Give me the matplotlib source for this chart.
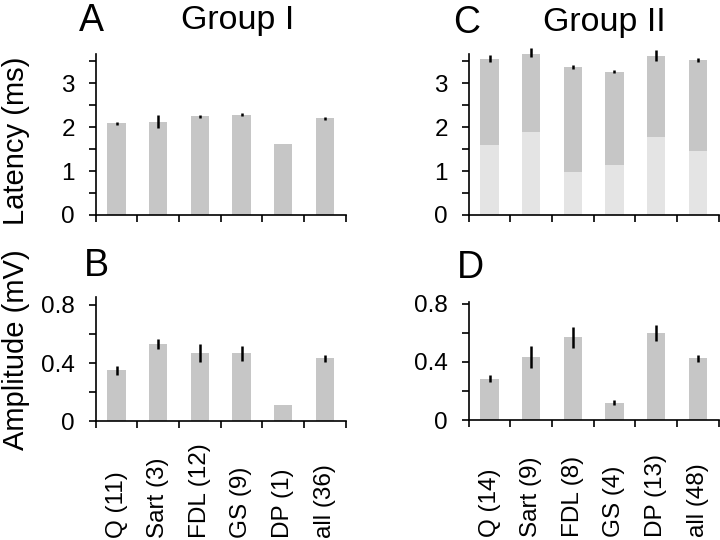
import matplotlib.pyplot as plt
import numpy as np

plt.rcParams['font.family'] = ['Liberation Sans', 'DejaVu Sans']

# ======= data =======
labels_1 = ["Q (11)", "Sart (3)", "FDL (12)", "GS (9)", "DP (1)", "all (36)"]
labels_2 = ["Q (14)", "Sart (9)", "FDL (8)", "GS (4)", "DP (13)", "all (48)"]

lat_1 = [2.09, 2.13, 2.25, 2.29, 1.61, 2.20]
lat_1_err = [0.04, 0.14, 0.03, 0.04, 0.0, 0.03]

lat_2_total = [3.56, 3.70, 3.37, 3.27, 3.63, 3.53]
lat_2_err = [0.08, 0.10, 0.05, 0.03, 0.13, 0.04]
lat_2_light = [1.59, 1.88, 0.99, 1.13, 1.77, 1.45]

amp_1 = [0.352, 0.529, 0.469, 0.469, 0.110, 0.434]
amp_1_err = [0.031, 0.035, 0.063, 0.052, 0.0, 0.025]

amp_2 = [0.285, 0.435, 0.570, 0.121, 0.597, 0.424]
amp_2_err = [0.026, 0.074, 0.071, 0.015, 0.056, 0.026]

dark = "#c6c6c6"
light = "#e4e4e4"

fig = plt.figure(figsize=(7.2, 5.4), dpi=100)

axA = fig.add_axes([0.133, 0.602, 0.347, 0.298])
axC = fig.add_axes([0.651, 0.602, 0.347, 0.298])
axB = fig.add_axes([0.133, 0.220, 0.347, 0.230])
axD = fig.add_axes([0.651, 0.222, 0.347, 0.218])


def style(ax, ymax, major, labels=None):
    n = 6
    x = np.arange(n)
    ax.set_xlim(-0.5, n - 0.5)
    ax.set_ylim(0, ymax)
    ax.spines['top'].set_visible(False)
    ax.spines['right'].set_visible(False)
    ax.spines['left'].set_linewidth(1.2)
    ax.spines['bottom'].set_linewidth(1.2)
    ax.set_xticks(np.arange(n + 1) - 0.5)
    ax.set_xticklabels([])
    ax.set_yticks(np.arange(0, ymax, major))
    ax.set_yticks(np.arange(major / 2, ymax, major), minor=True)
    ax.tick_params(axis='both', which='both', direction='out', length=5,
                   width=1.2, labelsize=17.5, pad=10)
    if labels is not None:
        ax.set_xticks(x, minor=True)
        ax.set_xticklabels(labels, minor=True, rotation=90, va='bottom',
                           fontsize=17.5)
        ax.tick_params(axis='x', which='minor', length=0, pad=84)


x = np.arange(6)
w = 0.44
ekw = dict(ecolor='black', elinewidth=1.8, capsize=0)

# A
axA.bar(x, lat_1, w, color=dark)
axA.errorbar(x, lat_1, yerr=lat_1_err, fmt='none', **ekw)
style(axA, 3.67, 1)
axA.set_yticklabels(['0', '1', '2', '3'])

# C
axC.bar(x, lat_2_light, w, color=light)
axC.bar(x, np.array(lat_2_total) - np.array(lat_2_light), w,
        bottom=lat_2_light, color=dark)
eb = axC.errorbar(x, lat_2_total, yerr=lat_2_err, fmt='none', **ekw)
for c in eb.lines[2]:
    c.set_clip_on(False)
style(axC, 3.67, 1)
axC.set_yticklabels(['0', '1', '2', '3'])

# B
axB.bar(x, amp_1, w, color=dark)
axB.errorbar(x, amp_1, yerr=amp_1_err, fmt='none', **ekw)
style(axB, 0.855, 0.4, labels_1)
axB.set_yticks([0, 0.2, 0.4, 0.6, 0.8])
axB.set_yticks([], minor=True)
axB.set_yticklabels(['0', '', '0.4', '', '0.8'])

# D
axD.bar(x, amp_2, w, color=dark)
axD.errorbar(x, amp_2, yerr=amp_2_err, fmt='none', **ekw)
style(axD, 0.81, 0.4, labels_2)
axD.set_yticks([0, 0.2, 0.4, 0.6, 0.8])
axD.set_yticks([], minor=True)
axD.set_yticklabels(['0', '', '0.4', '', '0.8'])

# panel letters and titles
fig.text(0.11, 0.962, "A", fontsize=27, va='center', ha='left')
fig.text(0.33, 0.962, "Group I", fontsize=24.5, va='center', ha='center')
fig.text(0.629, 0.958, "C", fontsize=27, va='center', ha='left')
fig.text(0.84, 0.958, "Group II", fontsize=24.5, va='center', ha='center')
fig.text(0.117, 0.508, "B", fontsize=27, va='center', ha='left')
fig.text(0.634, 0.503, "D", fontsize=27, va='center', ha='left')

fig.text(0.022, 0.74, "Latency (ms)", fontsize=21, rotation=90,
         va='center', ha='center')
fig.text(0.022, 0.352, "Amplitude (mV)", fontsize=21, rotation=90,
         va='center', ha='center')

plt.savefig("out.png", dpi=100)
